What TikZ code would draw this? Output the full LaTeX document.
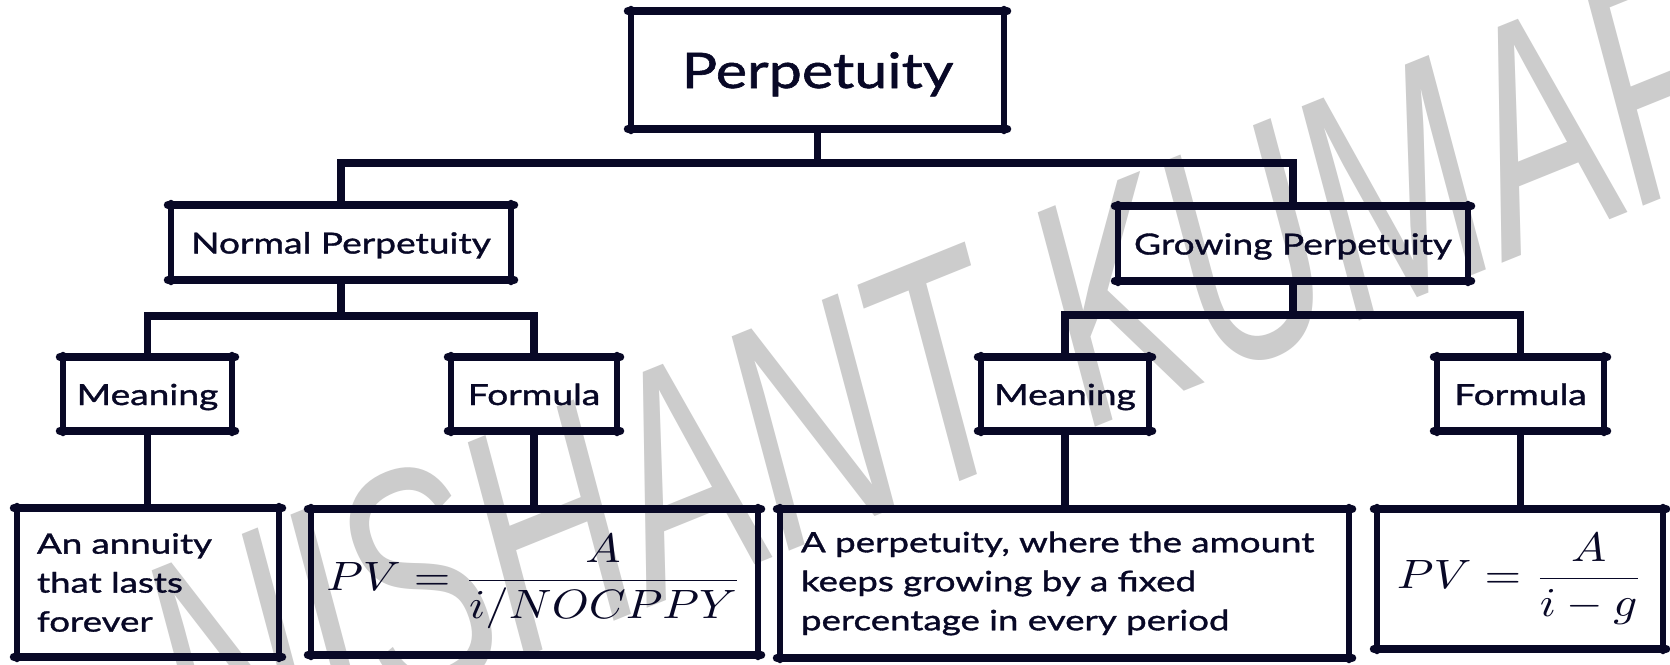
\documentclass[tikz,border=0pt]{standalone}
\usepackage{fontspec}
\setmainfont{Lato}
\newfontfamily\topf{Lato}[FakeStretch=1.21,FakeBold=1.2]
\newfontfamily\lvlf{Lato}[FakeStretch=1.28,FakeBold=1.2]
\newfontfamily\descf{Lato}[FakeStretch=1.31,FakeBold=1.2]
\newfontfamily\wmfont{Liberation Sans}
\usepackage{graphicx}
\usetikzlibrary{calc}
\definecolor{ink}{RGB}{8,8,38}
\definecolor{wm}{RGB}{204,204,204}
\tikzset{
  box/.style={draw=none, inner sep=0pt, outer sep=0pt, text=ink, align=center},
  lvl/.style={box, font=\lvlf\fontsize{29}{35}\selectfont, text height=29pt, text depth=7pt},
  desc/.style={box, align=left, font=\descf\fontsize{28}{39}\selectfont},
  mathbox/.style={box, font=\fontsize{10}{12}\selectfont},
  edgeh/.style={draw=ink, line width=8.5pt, line cap=round},
  edgev/.style={draw=ink, line width=6.5pt, line cap=round},
  conn/.style={draw=ink, line width=7.5pt},
}
\newcommand\skbox[1]{%
  \draw[edgev] ($(#1.north west)+(0,-2)$) -- ($(#1.south west)+(0,2)$);
  \draw[edgev] ($(#1.north east)+(0,-2)$) -- ($(#1.south east)+(0,2)$);
  \draw[edgeh] ($(#1.north west)+(-3,0)$) -- ($(#1.north east)+(3,0)$);
  \draw[edgeh] ($(#1.south west)+(-3,0)$) -- ($(#1.south east)+(3,0)$);}
\newcommand\bigmath[1]{\scalebox{4.7}[4.1]{#1}}
\begin{document}
\begin{tikzpicture}[x=1pt,y=-1pt]
\fill[white] (0,0) rectangle (1670,664);
\useasboundingbox (0,0) rectangle (1670,664);
% watermark
\node[text=wm, font=\wmfont\itshape\fontsize{320}{320}\selectfont, rotate=22, xscale=0.64,
      transform shape, inner sep=0pt] (wmark) at (948,368) {NISHANT KUMAR};
% nodes
\node[box, font=\topf\fontsize{49}{55}\selectfont, text height=46pt, text depth=10pt,
      minimum width=373pt, minimum height=118pt] (top) at (817.5,70) {Perpetuity};
\node[lvl, minimum width=340pt, minimum height=75pt] (np) at (341,242.5) {Normal Perpetuity};
\node[lvl, minimum width=350pt, minimum height=75pt] (gp) at (1293,243.5) {Growing Perpetuity};
\node[lvl, minimum width=169pt, minimum height=74pt] (m1) at (147.5,394) {Meaning};
\node[lvl, minimum width=166pt, minimum height=74pt] (f1) at (534,394) {Formula};
\node[lvl, minimum width=168pt, minimum height=74pt] (m2) at (1065,394) {Meaning};
\node[lvl, minimum width=167pt, minimum height=74pt] (f2) at (1520.5,394) {Formula};
\node[desc, text width=222pt, minimum width=262pt, minimum height=149pt] (b1) at (148,582.5)
  {An annuity\\that lasts\\forever};
\node[mathbox, minimum width=447pt, minimum height=146pt] (b2) at (534.5,582)
  {\bigmath{$\displaystyle PV=\frac{A}{i/NOCPPY}$}};
\node[desc, text width=527pt, minimum width=569pt, minimum height=149pt] (b3) at (1064.5,583.5)
  {A perpetuity, where the amount\\keeps growing by a fixed\\percentage in every period};
\node[mathbox, minimum width=286pt, minimum height=140pt] (b4) at (1520,579)
  {\bigmath{$\displaystyle PV=\frac{A}{i-g}$}};
% connectors
\draw[conn] (top.south) -- ++(0,34) coordinate (j0);
\draw[conn] (np.north) |- (j0) -| (gp.north);
\draw[conn] (np.south) -- ++(0,36) coordinate (j1);
\draw[conn] (m1.north) |- (j1) -| (f1.north);
\draw[conn] (gp.south) -- ++(0,34) coordinate (j2);
\draw[conn] (m2.north) |- (j2) -| (f2.north);
\draw[conn] (m1.south) -- (m1.south |- b1.north);
\draw[conn] (f1.south) -- (f1.south |- b2.north);
\draw[conn] (m2.south) -- (m2.south |- b3.north);
\draw[conn] (f2.south) -- (f2.south |- b4.north);
% sketchy box outlines
\foreach \n in {top,np,gp,m1,f1,m2,f2,b1,b2,b3,b4}{\skbox{\n}}
\end{tikzpicture}
\end{document}
